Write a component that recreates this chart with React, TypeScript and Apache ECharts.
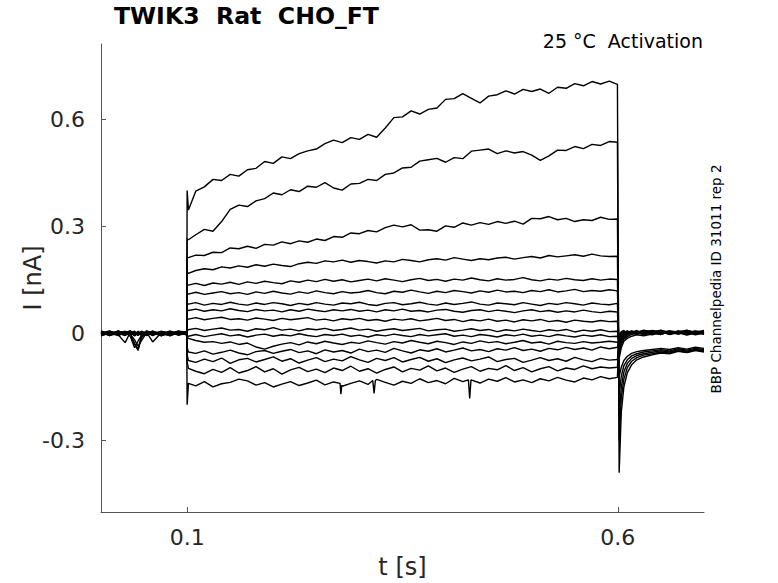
import React, { useEffect, useRef } from "react";
import * as echarts from "echarts";

// ---- time grid (s) ----
const preTimes = [0, 0.01, 0.02, 0.028, 0.034, 0.039, 0.043, 0.047, 0.053, 0.06, 0.07, 0.08, 0.09, 0.0995];
const stepTimes = [
  0.1, 0.1015,
  0.11, 0.12, 0.13, 0.14, 0.15, 0.16, 0.17, 0.18, 0.19, 0.2,
  0.21, 0.22, 0.23, 0.24, 0.25, 0.26, 0.27, 0.28, 0.29, 0.3,
  0.31, 0.32, 0.33, 0.34, 0.35, 0.36, 0.37, 0.38, 0.39, 0.4,
  0.41, 0.42, 0.43, 0.44, 0.45, 0.46, 0.47, 0.48, 0.49, 0.5,
  0.51, 0.52, 0.53, 0.54, 0.55, 0.56, 0.57, 0.58, 0.59,
  0.5995,
];
const postTimes = [0.6, 0.6015, 0.604, 0.607, 0.611, 0.616, 0.622, 0.63, 0.64, 0.65, 0.66, 0.67, 0.68, 0.69, 0.7];

// ---- sweep currents (pA), one array per segment ----
const pre01 = [4, -5, 7, -2, 5, -6, 3, -4, 6, -1, 5, -7, 2, 5];
const pre02 = [-3, 6, -5, 2, -7, -30, -48, -12, 4, -3, 6, -2, 5, 3];
const pre03 = [7, -3, 2, -6, 4, 1, -5, 6, -2, 5, -6, 3, -1, 2];
const pre04 = [-6, 2, -4, -26, 3, -7, 2, 5, -3, 6, -4, 7, -2, 4];
const pre05 = [1, 7, -3, 4, -8, -40, -22, -6, 3, -24, 2, -5, 6, -3];
const pre06 = [-4, -1, 6, -3, 2, -5, 4, -2, 7, 1, -6, 5, -3, -2];
const pre07 = [5, -6, 1, 6, -3, 2, -4, 5, -1, 4, -5, 2, 6, 4];
const pre08 = [-1, 4, -6, 2, -4, -28, -45, -5, 5, -2, 3, -5, 1, 2];
const pre09 = [6, -2, 3, -5, 7, -1, -4, 2, -6, 5, 1, -3, 6, -4];
const pre10 = [-5, 4, -1, 3, 6, -4, 2, -6, 4, -2, 5, 3, -5, 1];
const pre11 = [2, -6, 5, -4, 1, 6, -2, 3, -5, 4, -3, -1, 4, -5];
const pre12 = [-7, 1, -3, 5, -2, -18, -36, -20, 2, 6, -4, 5, -2, 0];
const pre13 = [3, -4, 6, 1, -5, 3, -2, 5, -6, 2, -3, 4, -5, 4];
const pre14 = [-2, 5, -1, -5, 4, -3, 6, -4, 2, -6, 4, -1, 3, -3];
const pre15 = [4, -1, -5, 3, 6, -2, 1, -5, 4, 2, -7, 3, -4, 2];
const pre16 = [-3, 2, 5, -2, -4, 3, -6, 2, -1, 5, -2, -6, 3, -2];

const step01 = [400, 345, 398, 410, 431, 428, 445, 440, 458, 462, 481, 476, 494, 489, 503, 511, 516, 531, 541, 534, 548, 543, 557, 549, 575, 604, 606, 623, 614, 627, 631, 655, 657, 671, 658, 645, 664, 668, 679, 670, 683, 677, 684, 672, 689, 686, 699, 693, 705, 698, 706, 697];
const step02 = [265, 262, 276, 291, 286, 313, 347, 359, 355, 371, 377, 393, 388, 402, 397, 412, 409, 422, 407, 401, 418, 420, 431, 428, 445, 449, 463, 465, 482, 486, 490, 479, 492, 489, 510, 513, 516, 503, 511, 505, 509, 499, 484, 497, 513, 512, 523, 517, 529, 526, 537, 535];
const step03 = [213, 212, 219, 218, 227, 226, 239, 237, 244, 238, 249, 247, 256, 251, 259, 255, 264, 260, 271, 269, 281, 279, 288, 284, 296, 303, 298, 304, 289, 290, 286, 301, 297, 309, 303, 310, 305, 313, 308, 314, 306, 322, 321, 327, 318, 322, 313, 318, 316, 325, 319, 320];
const step04 = [171, 168, 176, 181, 178, 186, 183, 189, 185, 192, 188, 194, 190, 187, 195, 199, 196, 203, 200, 205, 199, 204, 201, 197, 203, 200, 207, 204, 200, 206, 209, 205, 212, 208, 204, 209, 206, 211, 213, 208, 212, 215, 211, 218, 214, 217, 220, 216, 222, 217, 215, 216];
const step05 = [137, 135, 140, 134, 141, 138, 143, 137, 144, 140, 146, 142, 139, 147, 143, 149, 145, 151, 146, 150, 144, 148, 152, 147, 153, 149, 145, 150, 154, 148, 151, 146, 152, 149, 155, 150, 147, 153, 149, 151, 156, 150, 147, 152, 149, 154, 150, 148, 153, 149, 152, 151];
const step06 = [112, 110, 115, 109, 113, 117, 111, 114, 109, 116, 112, 118, 113, 110, 116, 112, 119, 114, 111, 117, 113, 115, 120, 114, 111, 118, 115, 121, 116, 112, 118, 114, 120, 117, 113, 119, 115, 121, 116, 118, 114, 120, 117, 122, 116, 119, 123, 117, 120, 118, 122, 119];
const step07 = [84, 82, 86, 79, 84, 81, 87, 82, 79, 85, 81, 86, 83, 78, 84, 80, 86, 82, 79, 85, 83, 87, 81, 78, 84, 86, 80, 83, 87, 82, 79, 85, 81, 84, 88, 82, 79, 85, 83, 80, 86, 82, 78, 84, 81, 86, 83, 79, 85, 82, 80, 84];
const step08 = [66, 64, 68, 62, 66, 63, 69, 64, 61, 67, 63, 65, 60, 66, 62, 68, 64, 61, 66, 63, 67, 62, 65, 60, 66, 63, 68, 62, 64, 60, 65, 67, 62, 59, 64, 66, 61, 65, 62, 58, 63, 66, 61, 64, 59, 63, 60, 65, 61, 58, 62, 60];
const step09 = [42, 40, 44, 38, 42, 45, 39, 41, 37, 43, 40, 36, 42, 38, 41, 44, 37, 40, 35, 41, 38, 42, 36, 39, 34, 40, 37, 41, 35, 38, 42, 36, 39, 33, 38, 35, 40, 34, 37, 32, 38, 35, 39, 33, 36, 31, 37, 34, 32, 36, 33, 34];
const step10 = [12, 10, 14, 8, 12, 15, 9, 11, 6, 13, 10, 16, 9, 12, 7, 13, 10, 14, 8, 11, 15, 9, 12, 6, 10, 13, 8, 11, 14, 7, 10, 12, 6, 9, 13, 8, 11, 5, 10, 7, 12, 8, 5, 10, 7, 11, 4, 9, 6, 10, 5, 6];
const step11 = [-5, -8, -3, -9, -5, -1, -7, -4, -10, -5, -2, -8, -4, -7, -1, -6, -9, -3, -6, -2, -8, -5, -10, -4, -7, -2, -6, -9, -3, -7, -4, -1, -8, -5, -9, -3, -6, -10, -4, -7, -2, -8, -5, -9, -3, -7, -10, -5, -8, -4, -9, -8];
const step12 = [-10, -14, -20, -25, -23, -28, -24, -31, -27, -38, -44, -36, -30, -26, -32, -24, -29, -22, -27, -31, -25, -28, -21, -26, -30, -23, -27, -20, -25, -29, -22, -26, -31, -24, -28, -21, -26, -23, -29, -25, -20, -27, -24, -30, -22, -26, -28, -23, -27, -25, -22, -25];
const step13 = [-40, -52, -56, -49, -58, -53, -47, -55, -60, -51, -48, -56, -50, -45, -54, -49, -57, -46, -52, -48, -55, -44, -51, -47, -53, -42, -49, -55, -46, -50, -43, -52, -47, -41, -49, -45, -51, -43, -47, -40, -48, -44, -50, -42, -46, -39, -45, -41, -47, -38, -43, -39];
const step14 = [-60, -76, -81, -72, -79, -69, -84, -74, -70, -80, -73, -66, -78, -71, -83, -75, -68, -79, -72, -77, -65, -74, -81, -70, -76, -68, -80, -73, -67, -78, -71, -82, -74, -69, -77, -72, -66, -79, -73, -70, -81, -75, -68, -76, -71, -78, -67, -74, -79, -70, -75, -73];
const step15 = [-80, -98, -106, -113, -101, -109, -96, -111, -104, -93, -108, -99, -114, -102, -95, -107, -100, -110, -97, -104, -92, -106, -99, -111, -101, -94, -108, -98, -103, -91, -105, -97, -109, -100, -93, -106, -98, -102, -90, -104, -96, -108, -99, -93, -105, -97, -101, -91, -99, -94, -97, -95];
const step16 = [-200, -140, -147, -135, -150, -141, -137, -128, -133, -145, -138, -150, -142, -135, -146, -139, -131, -144, -136, -148, -140, -133, -143, -129, -137, -145, -134, -140, -127, -138, -132, -141, -126, -135, -130, -139, -128, -134, -124, -136, -130, -138, -127, -133, -123, -131, -136, -125, -130, -121, -127, -123];

const post01 = [697, -390, -220, -150, -110, -88, -74, -66, -60, -55, -57, -50, -54, -48, -52];
const post02 = [535, -300, -180, -128, -96, -78, -68, -61, -57, -52, -55, -49, -53, -47, -50];
const post03 = [320, -230, -150, -108, -84, -70, -62, -57, -53, -49, -52, -46, -50, -45, -48];
const post04 = [216, -170, -120, -90, -74, -63, -57, -52, -49, -46, -49, -43, -47, -42, -45];
const post05 = [151, -120, -95, -76, -64, -56, -51, -48, -45, -42, -45, -40, -44, -39, -42];
const post06 = [119, -70, -40, -22, -14, -8, -4, -7, -2, 4, -3, 2, -5, 1, -2];
const post07 = [84, -55, -30, -16, -9, -3, 2, -4, 3, -2, 5, -1, 3, -4, 1];
const post08 = [60, -45, -24, -12, -5, 1, -3, 4, -1, 5, -2, 3, -3, 2, 5];
const post09 = [34, -35, -18, -8, -2, 4, -1, 6, 2, -3, 4, 0, 5, -2, 3];
const post10 = [6, -28, -14, -5, 2, -2, 5, 1, -4, 3, 7, -1, 2, 6, -2];
const post11 = [-8, -22, -10, -2, 4, 1, -3, 5, 2, 8, 1, 4, -2, 5, 1];
const post12 = [-25, -18, -7, 1, -3, 5, 2, -2, 6, 2, -1, 7, 3, -1, 4];
const post13 = [-39, -14, -4, 3, 6, -1, 4, 7, 1, -3, 5, 2, 8, 3, -1];
const post14 = [-73, -10, -1, 5, 2, 7, 0, 3, 8, 4, -2, 6, 1, 7, 3];
const post15 = [-95, -6, 2, -2, 7, 3, 8, -1, 4, 9, 2, -2, 6, 3, 8];
const post16 = [-123, -4, 5, 8, 1, 6, 3, 9, 5, 0, 7, 4, 9, 1, 6];

// brief downward spikes on the most negative sweep
const spike16Times = [0.2775, 0.2785, 0.2795, 0.3155, 0.317, 0.3185, 0.4265, 0.428, 0.4295];
const spike16Values = [-140, -170, -145, -132, -168, -132, -130, -182, -130];

const preSweeps = [pre01, pre02, pre03, pre04, pre05, pre06, pre07, pre08, pre09, pre10, pre11, pre12, pre13, pre14, pre15, pre16];
const stepSweeps = [step01, step02, step03, step04, step05, step06, step07, step08, step09, step10, step11, step12, step13, step14, step15, step16];
const postSweeps = [post01, post02, post03, post04, post05, post06, post07, post08, post09, post10, post11, post12, post13, post14, post15, post16];

const xTickValues = [0.1, 0.6];
const yTickValues = [-0.3, 0, 0.3, 0.6];

const FONT = "DejaVu Sans";

export default function App() {
  const ref = useRef<HTMLDivElement>(null);
  useEffect(() => {
    if (!ref.current) return;
    const chart = echarts.init(ref.current, undefined, { renderer: "svg" });
    const times = [...preTimes, ...stepTimes, ...postTimes];
    const series = stepSweeps.map((_, k) => {
      const vals = [...preSweeps[k], ...stepSweeps[k], ...postSweeps[k]];
      let pts = times.map((t, i) => [t, vals[i] / 1000]);
      if (k === 15) {
        pts = pts.concat(spike16Times.map((t, i) => [t, spike16Values[i] / 1000]));
        pts.sort((a, b) => a[0] - b[0]);
      }
      return {
        type: "line",
        data: pts,
        showSymbol: false,
        symbol: "none",
        silent: true,
        lineStyle: { color: "#000", width: 1.4 },
      };
    });
    const axisColor = "#555";
    chart.setOption({
      animation: false,
      grid: { left: 101, right: 74, top: 44, bottom: 71, outerBoundsMode: "none", containLabel: false },
      xAxis: {
        type: "value",
        min: 0,
        max: 0.7,
        axisLine: { onZero: false, lineStyle: { color: axisColor, width: 1 } },
        axisTick: { inside: true, length: 5, customValues: xTickValues, lineStyle: { color: axisColor } },
        axisLabel: { customValues: xTickValues, fontSize: 22, color: "#262626", margin: 14, fontFamily: FONT },
        splitLine: { show: false },
        name: "t [s]",
        nameLocation: "middle",
        nameGap: 43,
        nameMoveOverlap: false,
        nameTextStyle: { fontSize: 24, color: "#262626", fontFamily: FONT },
      },
      yAxis: {
        type: "value",
        min: -0.5,
        max: 0.81,
        axisLine: { show: true, onZero: false, lineStyle: { color: axisColor, width: 1 } },
        axisTick: { show: true, inside: true, length: 5, customValues: yTickValues, lineStyle: { color: axisColor } },
        axisLabel: { customValues: yTickValues, fontSize: 22, color: "#262626", margin: 16, fontFamily: FONT },
        splitLine: { show: false },
        name: "I [nA]",
        nameLocation: "middle",
        nameGap: 56,
        nameMoveOverlap: false,
        nameTextStyle: { fontSize: 24, color: "#262626", fontFamily: FONT },
      },
      graphic: [
        {
          type: "text",
          left: 114,
          top: 4,
          style: { text: "TWIK3  Rat  CHO_FT", font: `bold 23.6px "${FONT}"`, fill: "#000" },
        },
        {
          type: "text",
          x: 703,
          y: 41,
          style: { text: "25 °C  Activation", font: `19px "${FONT}"`, fill: "#000", align: "right", verticalAlign: "middle" },
        },
        {
          type: "text",
          x: 716,
          y: 279,
          rotation: Math.PI / 2,
          style: { text: "BBP Channelpedia ID 31011 rep 2", font: `13.5px "${FONT}"`, fill: "#000", align: "center", verticalAlign: "middle" },
        },
      ],
      series,
    });
    return () => chart.dispose();
  }, []);
  return <div ref={ref} style={{ position: "absolute", left: 0, top: 0, width: 778, height: 583 }} />;
}
